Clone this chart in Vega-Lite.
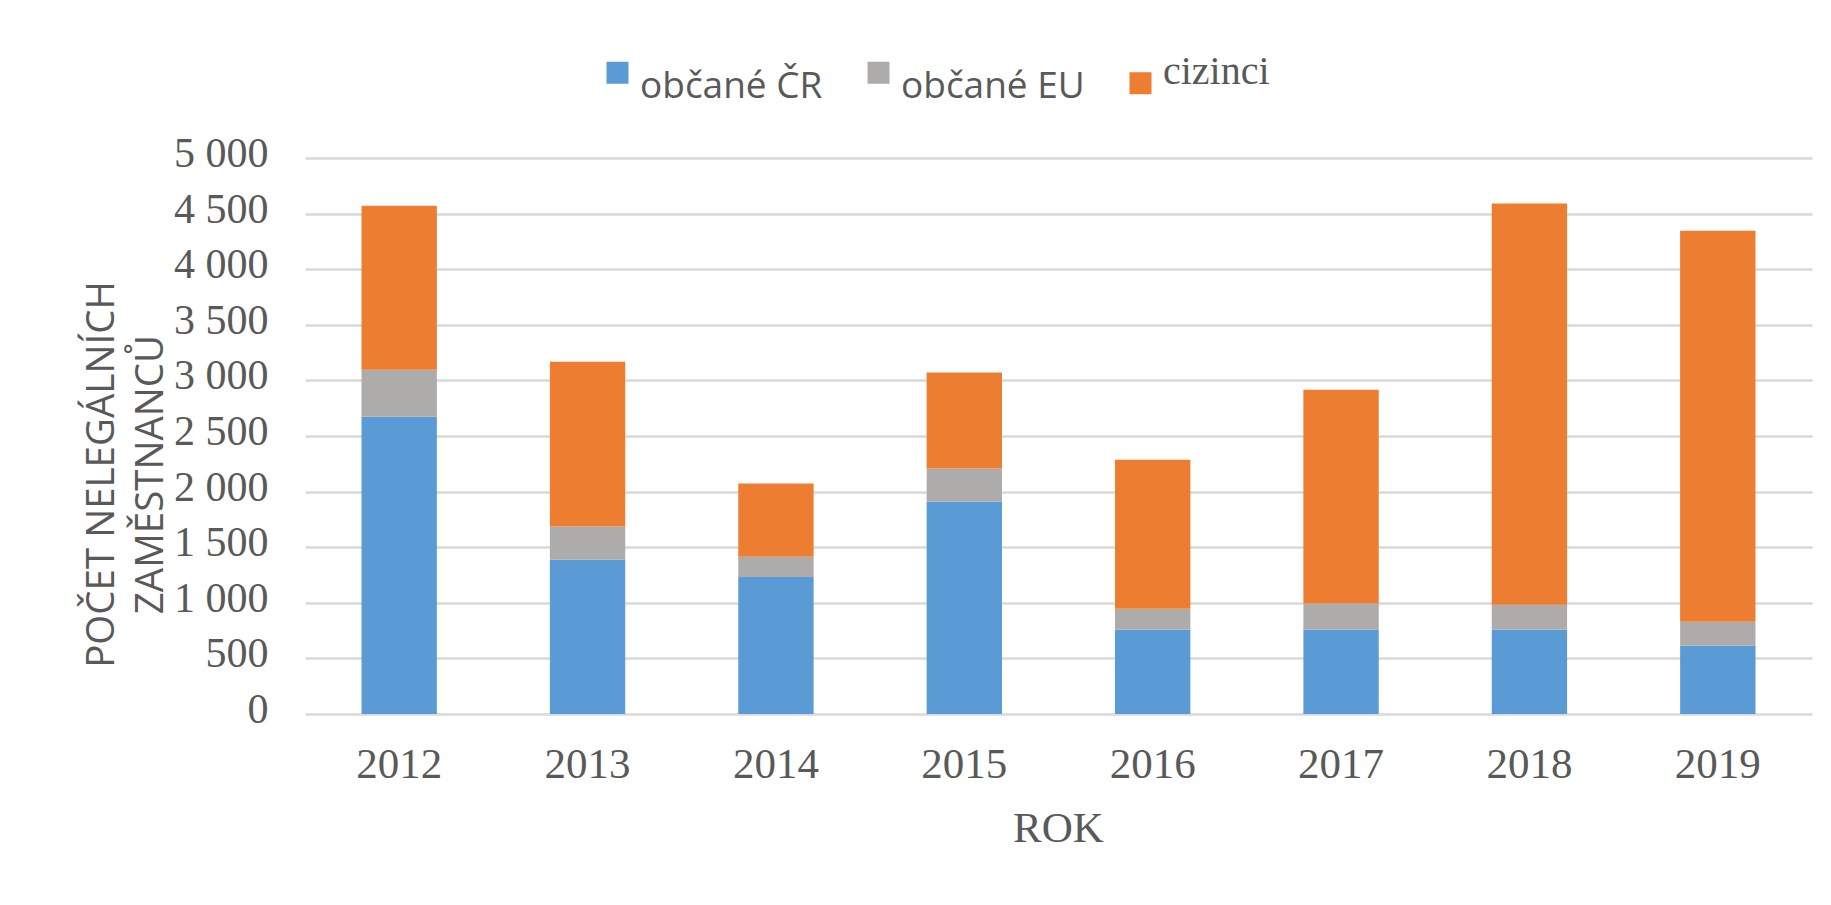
{
  "$schema": "https://vega.github.io/schema/vega-lite/v6.json",
  "width": 1507,
  "height": 556,
  "autosize": {"type": "none"},
  "padding": {"left": 305, "top": 158, "right": 19, "bottom": 191},
  "background": "#ffffff",
  "data": {
    "values": [
      {"rok": "2012", "skupina": "občané ČR", "pocet": 2672},
      {"rok": "2012", "skupina": "občané EU", "pocet": 424},
      {"rok": "2012", "skupina": "cizinci", "pocet": 1474},
      {"rok": "2013", "skupina": "občané ČR", "pocet": 1388},
      {"rok": "2013", "skupina": "občané EU", "pocet": 298},
      {"rok": "2013", "skupina": "cizinci", "pocet": 1481},
      {"rok": "2014", "skupina": "občané ČR", "pocet": 1233},
      {"rok": "2014", "skupina": "občané EU", "pocet": 180},
      {"rok": "2014", "skupina": "cizinci", "pocet": 659},
      {"rok": "2015", "skupina": "občané ČR", "pocet": 1908},
      {"rok": "2015", "skupina": "občané EU", "pocet": 299},
      {"rok": "2015", "skupina": "cizinci", "pocet": 864},
      {"rok": "2016", "skupina": "občané ČR", "pocet": 758},
      {"rok": "2016", "skupina": "občané EU", "pocet": 189},
      {"rok": "2016", "skupina": "cizinci", "pocet": 1340},
      {"rok": "2017", "skupina": "občané ČR", "pocet": 758},
      {"rok": "2017", "skupina": "občané EU", "pocet": 235},
      {"rok": "2017", "skupina": "cizinci", "pocet": 1924},
      {"rok": "2018", "skupina": "občané ČR", "pocet": 758},
      {"rok": "2018", "skupina": "občané EU", "pocet": 225},
      {"rok": "2018", "skupina": "cizinci", "pocet": 3607},
      {"rok": "2019", "skupina": "občané ČR", "pocet": 614},
      {"rok": "2019", "skupina": "občané EU", "pocet": 215},
      {"rok": "2019", "skupina": "cizinci", "pocet": 3517}
    ]
  },
  "mark": {"type": "bar"},
  "encoding": {
    "x": {
      "field": "rok",
      "type": "ordinal",
      "scale": {"paddingInner": 0.6, "paddingOuter": 0.3},
      "axis": {
        "title": "ROK",
        "labelAngle": 0,
        "ticks": false,
        "domain": false,
        "labelFont": "Liberation Serif",
        "labelFontSize": 43,
        "labelColor": "#595959",
        "labelBaseline": "alphabetic",
        "labelPadding": 63,
        "titleFont": "Liberation Serif",
        "titleFontSize": 43,
        "titleFontWeight": "normal",
        "titleColor": "#595959",
        "titleBaseline": "alphabetic",
        "titleY": 127,
        "titleX": 753
      }
    },
    "y": {
      "field": "pocet",
      "type": "quantitative",
      "stack": "zero",
      "scale": {"domain": [0, 5000], "nice": false},
      "axis": {
        "values": [0, 500, 1000, 1500, 2000, 2500, 3000, 3500, 4000, 4500, 5000],
        "labelExpr": "replace(format(datum.value, ','), ',', ' ')",
        "title": ["POČET NELEGÁLNÍCH", "ZAMĚSTNANCŮ"],
        "ticks": false,
        "domain": false,
        "grid": true,
        "gridColor": "#D9D9D9",
        "gridWidth": 2.7,
        "labelFont": "Liberation Serif",
        "labelFontSize": 42,
        "labelColor": "#595959",
        "labelBaseline": "alphabetic",
        "labelOffset": 8.5,
        "labelPadding": 37,
        "titleFont": "Open Sans",
        "titleFontSize": 38.5,
        "titleFontWeight": "normal",
        "titleColor": "#595959",
        "titleAngle": -90,
        "titleAlign": "center",
        "titleBaseline": "alphabetic",
        "titleLineHeight": 49,
        "titleX": -192,
        "titleY": 316
      }
    },
    "color": {
      "field": "skupina",
      "type": "nominal",
      "scale": {
        "domain": ["občané ČR", "občané EU", "cizinci"],
        "range": ["#5B9BD5", "#ADACAB", "#ED7D31"]
      },
      "legend": {
        "title": null,
        "orient": "none",
        "direction": "horizontal",
        "legendX": 294,
        "legendY": -104,
        "padding": 0,
        "symbolType": "square",
        "symbolSize": 484,
        "symbolStrokeWidth": 0,
        "symbolOpacity": 1,
        "labelFont": "Open Sans",
        "labelFontSize": 37,
        "labelColor": "#595959",
        "labelOffset": 4,
        "labelLimit": 400,
        "columnPadding": 37,
        "encode": {
          "labels": {
            "update": {
              "font": {"signal": "datum.label === 'cizinci' ? 'Liberation Serif' : 'Open Sans'"},
              "fontSize": {"signal": "datum.label === 'cizinci' ? 40 : 37"},
              "baseline": {"value": "alphabetic"},
              "dy": {"signal": "datum.label === 'cizinci' ? 1 : 25"}
            }
          }
        }
      }
    },
    "order": {"field": "skupina", "sort": "descending"}
  },
  "config": {
    "view": {"stroke": null}
  }
}
